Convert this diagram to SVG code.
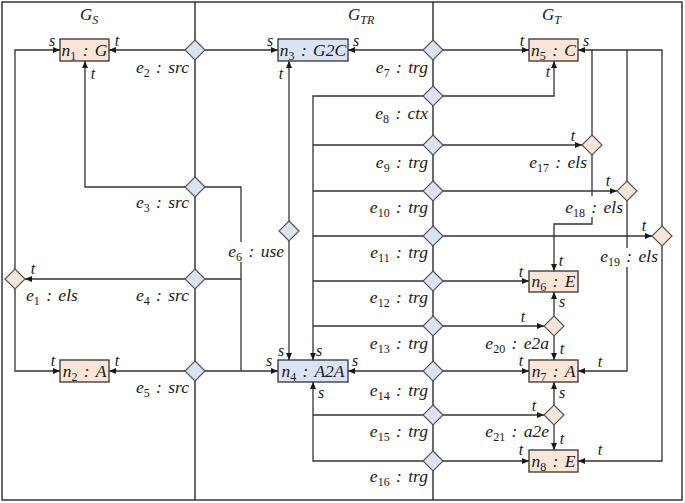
<svg xmlns="http://www.w3.org/2000/svg" width="685" height="503" viewBox="0 0 685 503">
<style>
text{font-family:"Liberation Serif","DejaVu Serif",serif;font-style:italic;fill:#1a1a1a}
.lbl{font-size:17.5px;word-spacing:2px}
.port{font-size:16px;text-anchor:middle}
.nl{font-size:17.5px;text-anchor:middle;word-spacing:2px}
.ttl{font-size:17px}
.sub{font-size:12px;font-style:normal}
.subi{font-size:12px}
.frame{fill:none;stroke:#1a1a1a;stroke-width:1.3}
.c{fill:none;stroke:#333;stroke-width:1.3}
.ca{fill:none;stroke:#333;stroke-width:1.3;marker-end:url(#ah)}
.bo{fill:#fbe5d6;stroke:#333;stroke-width:1.3}
.bb{fill:#dae3f3;stroke:#333;stroke-width:1.3}
.db{fill:#dae3f3;stroke:#555;stroke-width:1.2}
.do{fill:#fbe5d6;stroke:#555;stroke-width:1.2}
</style>
<defs>
<marker id="ah" markerUnits="userSpaceOnUse" markerWidth="7" markerHeight="6" refX="7" refY="3" orient="auto">
<path d="M0,0 L7,3 L0,6 z" fill="#1a1a1a"/>
</marker>
</defs>
<rect width="685" height="503" fill="#fff"/>
<g id="frame">
<rect class="frame" x="2" y="2" width="680" height="498"/>
<line class="frame" x1="195" y1="2" x2="195" y2="500"/>
<line class="frame" x1="433" y1="2" x2="433" y2="500"/>
<text class="ttl" x="80" y="20">G<tspan class="subi" dy="4">S</tspan></text>
<text class="ttl" x="348" y="20">G<tspan class="subi" dy="4">TR</tspan></text>
<text class="ttl" x="542" y="20">G<tspan class="subi" dy="4">T</tspan></text>
</g>
<g id="connectors">
<path class="ca" d="M185,50 H109"/>
<path class="ca" d="M205,50 H278"/>
<path class="ca" d="M185,187 H85 V61"/>
<path class="c" d="M205,187 H241 V242 M241,262 V371"/>
<path class="ca" d="M185,279 H25"/>
<path class="c" d="M205,279 H241"/>
<path class="ca" d="M15,269 V50 H60"/>
<path class="ca" d="M15,289 V371 H60"/>
<path class="ca" d="M185,371 H109"/>
<path class="ca" d="M205,371 H278"/>
<path class="ca" d="M289,221 V61"/>
<path class="ca" d="M289,241 V360"/>
<path class="ca" d="M423,50 H348"/>
<path class="ca" d="M443,50 H529"/>
<path class="ca" d="M423,96 H313 V360"/>
<path class="c" d="M423,145 H313 M423,191 H313 M423,236 H313 M423,281 H313 M423,326 H313"/>
<path class="ca" d="M423,371 H348"/>
<path class="ca" d="M423,461 H313 V382"/>
<path class="c" d="M423,415 H313"/>
<path class="ca" d="M443,96 H554 V61"/>
<path class="ca" d="M443,145 H582"/>
<path class="ca" d="M443,191 H617"/>
<path class="ca" d="M443,236 H652"/>
<path class="ca" d="M443,281 H529"/>
<path class="ca" d="M443,326 H544"/>
<path class="ca" d="M443,371 H529"/>
<path class="ca" d="M443,415 H544"/>
<path class="ca" d="M443,461 H529"/>
<path class="ca" d="M592,135 V50 H578"/>
<path class="c" d="M627,181 V50 M662,226 V50 H592"/>
<path class="c" d="M592,155 V196"/>
<path class="ca" d="M592,217 V224 H554 V271"/>
<path class="c" d="M627,201 V248"/>
<path class="ca" d="M627,267 V371 H578"/>
<path class="ca" d="M662,246 V461 H578"/>
<path class="ca" d="M554,316 V292"/>
<path class="ca" d="M554,336 V360"/>
<path class="ca" d="M554,405 V382"/>
<path class="ca" d="M554,425 V450"/>
</g>
<g id="n1"><rect class="bo" x="60" y="39" width="49" height="22"/><text class="nl" x="84.5" y="56">n<tspan class="sub" dy="4">1</tspan><tspan dy="-4"> : G</tspan></text></g>
<g id="n2"><rect class="bo" x="60" y="360" width="49" height="22"/><text class="nl" x="84.5" y="377">n<tspan class="sub" dy="4">2</tspan><tspan dy="-4"> : A</tspan></text></g>
<g id="n3"><rect class="bb" x="278" y="39" width="70" height="22"/><text class="nl" x="313" y="56">n<tspan class="sub" dy="4">3</tspan><tspan dy="-4"> : G2C</tspan></text></g>
<g id="n4"><rect class="bb" x="278" y="360" width="70" height="22"/><text class="nl" x="313" y="377">n<tspan class="sub" dy="4">4</tspan><tspan dy="-4"> : A2A</tspan></text></g>
<g id="n5"><rect class="bo" x="529" y="39" width="49" height="22"/><text class="nl" x="553.5" y="56">n<tspan class="sub" dy="4">5</tspan><tspan dy="-4"> : C</tspan></text></g>
<g id="n6"><rect class="bo" x="529" y="271" width="49" height="21"/><text class="nl" x="553.5" y="287">n<tspan class="sub" dy="4">6</tspan><tspan dy="-4"> : E</tspan></text></g>
<g id="n7"><rect class="bo" x="529" y="360" width="49" height="22"/><text class="nl" x="553.5" y="377">n<tspan class="sub" dy="4">7</tspan><tspan dy="-4"> : A</tspan></text></g>
<g id="n8"><rect class="bo" x="529" y="450" width="49" height="22"/><text class="nl" x="553.5" y="467">n<tspan class="sub" dy="4">8</tspan><tspan dy="-4"> : E</tspan></text></g>
<g id="e1"><path class="do" d="M15,269 L25,279 L15,289 L5,279 z"/><text class="lbl" x="26" y="301">e<tspan class="sub" dy="4">1</tspan><tspan dy="-4"> : els</tspan></text></g>
<g id="e2"><path class="db" d="M195,40 L205,50 L195,60 L185,50 z"/><text class="lbl" x="189" y="73" text-anchor="end">e<tspan class="sub" dy="4">2</tspan><tspan dy="-4"> : src</tspan></text></g>
<g id="e3"><path class="db" d="M195,177 L205,187 L195,197 L185,187 z"/><text class="lbl" x="189" y="208" text-anchor="end">e<tspan class="sub" dy="4">3</tspan><tspan dy="-4"> : src</tspan></text></g>
<g id="e4"><path class="db" d="M195,269 L205,279 L195,289 L185,279 z"/><text class="lbl" x="189" y="301" text-anchor="end">e<tspan class="sub" dy="4">4</tspan><tspan dy="-4"> : src</tspan></text></g>
<g id="e5"><path class="db" d="M195,361 L205,371 L195,381 L185,371 z"/><text class="lbl" x="189" y="393" text-anchor="end">e<tspan class="sub" dy="4">5</tspan><tspan dy="-4"> : src</tspan></text></g>
<g id="e6"><path class="db" d="M289,221 L299,231 L289,241 L279,231 z"/><text class="lbl" x="284" y="257" text-anchor="end">e<tspan class="sub" dy="4">6</tspan><tspan dy="-4"> : use</tspan></text></g>
<g id="e7"><path class="db" d="M433,40 L443,50 L433,60 L423,50 z"/><text class="lbl" x="428" y="73" text-anchor="end">e<tspan class="sub" dy="4">7</tspan><tspan dy="-4"> : trg</tspan></text></g>
<g id="e8"><path class="db" d="M433,86 L443,96 L433,106 L423,96 z"/><text class="lbl" x="428" y="119" text-anchor="end">e<tspan class="sub" dy="4">8</tspan><tspan dy="-4"> : ctx</tspan></text></g>
<g id="e9"><path class="db" d="M433,135 L443,145 L433,155 L423,145 z"/><text class="lbl" x="428" y="168" text-anchor="end">e<tspan class="sub" dy="4">9</tspan><tspan dy="-4"> : trg</tspan></text></g>
<g id="e10"><path class="db" d="M433,181 L443,191 L433,201 L423,191 z"/><text class="lbl" x="428" y="213" text-anchor="end">e<tspan class="sub" dy="4">10</tspan><tspan dy="-4"> : trg</tspan></text></g>
<g id="e11"><path class="db" d="M433,226 L443,236 L433,246 L423,236 z"/><text class="lbl" x="428" y="258" text-anchor="end">e<tspan class="sub" dy="4">11</tspan><tspan dy="-4"> : trg</tspan></text></g>
<g id="e12"><path class="db" d="M433,271 L443,281 L433,291 L423,281 z"/><text class="lbl" x="428" y="303" text-anchor="end">e<tspan class="sub" dy="4">12</tspan><tspan dy="-4"> : trg</tspan></text></g>
<g id="e13"><path class="db" d="M433,316 L443,326 L433,336 L423,326 z"/><text class="lbl" x="428" y="349" text-anchor="end">e<tspan class="sub" dy="4">13</tspan><tspan dy="-4"> : trg</tspan></text></g>
<g id="e14"><path class="db" d="M433,361 L443,371 L433,381 L423,371 z"/><text class="lbl" x="428" y="396" text-anchor="end">e<tspan class="sub" dy="4">14</tspan><tspan dy="-4"> : trg</tspan></text></g>
<g id="e15"><path class="db" d="M433,405 L443,415 L433,425 L423,415 z"/><text class="lbl" x="428" y="437" text-anchor="end">e<tspan class="sub" dy="4">15</tspan><tspan dy="-4"> : trg</tspan></text></g>
<g id="e16"><path class="db" d="M433,451 L443,461 L433,471 L423,461 z"/><text class="lbl" x="428" y="482" text-anchor="end">e<tspan class="sub" dy="4">16</tspan><tspan dy="-4"> : trg</tspan></text></g>
<g id="e17"><path class="do" d="M592,135 L602,145 L592,155 L582,145 z"/><text class="lbl" x="587" y="168" text-anchor="end">e<tspan class="sub" dy="4">17</tspan><tspan dy="-4"> : els</tspan></text></g>
<g id="e18"><path class="do" d="M627,181 L637,191 L627,201 L617,191 z"/><text class="lbl" x="623" y="213" text-anchor="end">e<tspan class="sub" dy="4">18</tspan><tspan dy="-4"> : els</tspan></text></g>
<g id="e19"><path class="do" d="M662,226 L672,236 L662,246 L652,236 z"/><text class="lbl" x="658" y="262" text-anchor="end">e<tspan class="sub" dy="4">19</tspan><tspan dy="-4"> : els</tspan></text></g>
<g id="e20"><path class="do" d="M554,316 L564,326 L554,336 L544,326 z"/><text class="lbl" x="549" y="349" text-anchor="end">e<tspan class="sub" dy="4">20</tspan><tspan dy="-4"> : e2a</tspan></text></g>
<g id="e21"><path class="do" d="M554,405 L564,415 L554,425 L544,415 z"/><text class="lbl" x="549" y="437" text-anchor="end">e<tspan class="sub" dy="4">21</tspan><tspan dy="-4"> : a2e</tspan></text></g>
<g id="ports">
<text class="port" x="52" y="46">s</text>
<text class="port" x="117" y="46">t</text>
<text class="port" x="93" y="79">t</text>
<text class="port" x="33" y="274">t</text>
<text class="port" x="53" y="366">t</text>
<text class="port" x="117" y="366">t</text>
<text class="port" x="270" y="46">s</text>
<text class="port" x="356" y="46">s</text>
<text class="port" x="281" y="79">t</text>
<text class="port" x="281" y="356">s</text>
<text class="port" x="319" y="356">s</text>
<text class="port" x="269" y="366">s</text>
<text class="port" x="355" y="366">s</text>
<text class="port" x="321" y="398">s</text>
<text class="port" x="522" y="46">t</text>
<text class="port" x="586" y="46">s</text>
<text class="port" x="548" y="77">t</text>
<text class="port" x="573" y="141">t</text>
<text class="port" x="608" y="186">t</text>
<text class="port" x="644" y="231">t</text>
<text class="port" x="561" y="266">t</text>
<text class="port" x="521" y="277">t</text>
<text class="port" x="562" y="307">s</text>
<text class="port" x="523" y="322">t</text>
<text class="port" x="562" y="354">t</text>
<text class="port" x="521" y="366">t</text>
<text class="port" x="600" y="367">t</text>
<text class="port" x="562" y="398">s</text>
<text class="port" x="534" y="411">t</text>
<text class="port" x="562" y="444">t</text>
<text class="port" x="521" y="455">t</text>
<text class="port" x="600" y="455">t</text>
</g>
</svg>
